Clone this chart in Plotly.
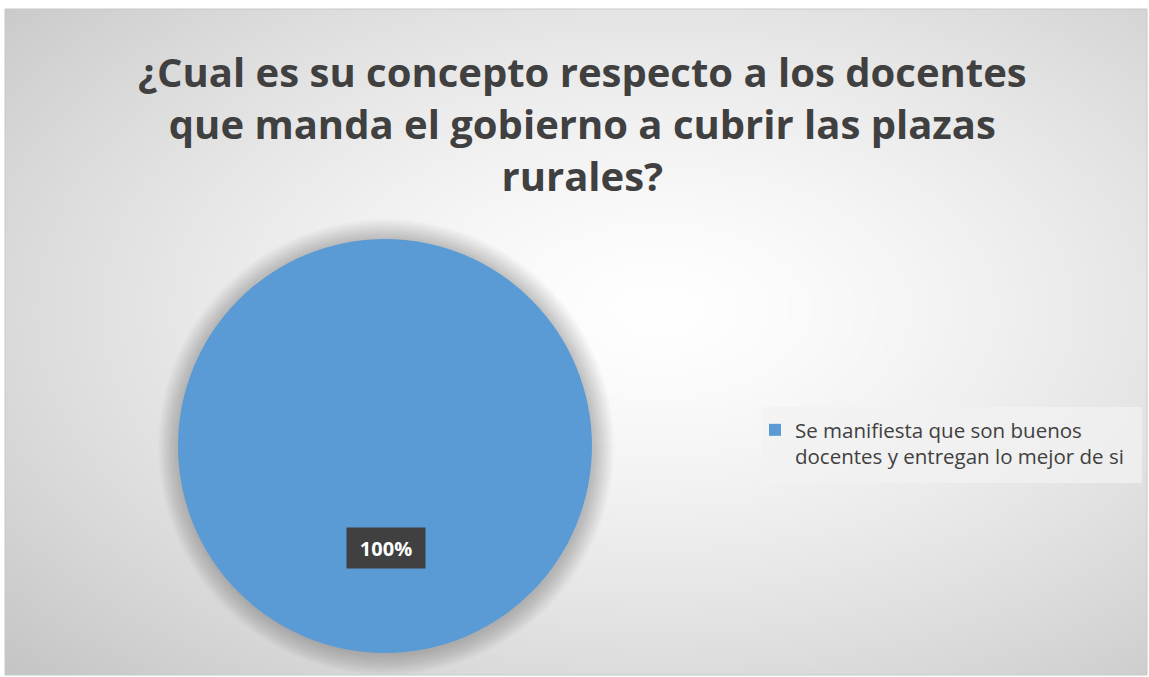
import base64, struct, zlib
import numpy as np
import plotly.graph_objects as go

# ---- data ----
categories = ["Se manifiesta que son buenos<br>docentes y entregan lo mejor de si"]
values = [100]
title_lines = ["¿Cual es su concepto respecto a los docentes",
               "que manda el gobierno a cubrir las plazas",
               "rurales?"]

W, H = 1149, 677
fx0, fy0, fx1, fy1 = 5, 9, 1147, 675

def px(x):
    return x / W

def py(y):
    return 1 - y / H

# ---- radial gradient background as PNG ----
gw, gh = 288, 168
yy, xx = np.mgrid[0:gh, 0:gw]
cx, cy = gw * 0.57, gh * 0.45
r = np.sqrt(((xx - cx) / (gw / 2)) ** 2 + ((yy - cy) / (gh / 2)) ** 2)
r = r / r.max()
v = 255 - 58 * np.clip(r, 0, 1) ** 1.4
img = v.astype(np.uint8)
raw = b"".join(b"\x00" + img[i].tobytes() for i in range(gh))

def chunk(t, d):
    c = struct.pack(">I", len(d)) + t + d
    return c + struct.pack(">I", zlib.crc32(t + d) & 0xffffffff)

png = b"\x89PNG\r\n\x1a\n" + chunk(b"IHDR", struct.pack(">IIBBBBB", gw, gh, 8, 0, 0, 0, 0)) \
    + chunk(b"IDAT", zlib.compress(raw, 9)) + chunk(b"IEND", b"")
uri = "data:image/png;base64," + base64.b64encode(png).decode()

pie_color = "#5B9BD5"
fig = go.Figure()
fig.add_trace(go.Pie(
    labels=categories, values=values, marker=dict(colors=[pie_color], line=dict(width=0)),
    textinfo="none", hoverinfo="label+percent", sort=False, direction="clockwise",
    domain=dict(x=[px(178), px(592)], y=[py(653), py(239)]),
    showlegend=True,
))

shapes = []
# soft shadow around pie
pcx, pcy, pr = 385, 446, 207
for k in range(1, 15):
    rr = pr + k * 1.5
    shapes.append(dict(type="circle", xref="paper", yref="paper", layer="below",
                       x0=px(pcx - rr + 1), x1=px(pcx + rr + 1), y0=py(pcy + rr + 1), y1=py(pcy - rr + 1),
                       fillcolor="rgba(0,0,0,0.017)", line=dict(width=0)))
# legend background box
shapes.append(dict(type="rect", xref="paper", yref="paper", layer="below",
                   x0=px(762), x1=px(1142), y0=py(483), y1=py(407),
                   fillcolor="rgba(242,242,242,0.75)", line=dict(width=0)))
# frame border
shapes.append(dict(type="rect", xref="paper", yref="paper", layer="above",
                   x0=px(fx0), x1=px(fx1), y0=py(fy1), y1=py(fy0),
                   line=dict(color="#c8c8c8", width=1), fillcolor="rgba(0,0,0,0)"))

total = sum(values)
pct_text = f"{round(values[0] / total * 100)}%"

annotations = [dict(text="<b>" + pct_text + "</b>", xref="paper", yref="paper",
                    x=px(385.5), y=py(548), xanchor="center", yanchor="middle", showarrow=False,
                    font=dict(family="Open Sans", size=20, color="white"),
                    bgcolor="#404040", borderpad=6, width=66, height=28)]
annotations.append(dict(text="<br>".join(title_lines), xref="paper", yref="paper",
                        x=px(582), y=py(123), xanchor="center", yanchor="middle", showarrow=False,
                        font=dict(family="Open Sans", size=40, color="#404040", weight="bold")))

fig.update_layout(
    width=W, height=H, margin=dict(l=0, r=0, t=0, b=0),
    paper_bgcolor="white", plot_bgcolor="white",
    images=[dict(source=uri, xref="paper", yref="paper", x=px(fx0), y=py(fy0),
                 sizex=px(fx1) - px(fx0), sizey=py(fy0) - py(fy1), sizing="stretch",
                 layer="below", xanchor="left", yanchor="top")],
    shapes=shapes,
    legend=dict(x=px(755), y=py(410), xanchor="left", yanchor="top", valign="top",
                bgcolor="rgba(0,0,0,0)", font=dict(family="Open Sans", size=20.5, color="#404040"),
                itemwidth=30, borderwidth=0),
    annotations=annotations,
)
fig.write_html("out.html", config={"displayModeBar": False},
               post_script="document.body.style.margin='0';document.body.style.overflow='hidden';")
